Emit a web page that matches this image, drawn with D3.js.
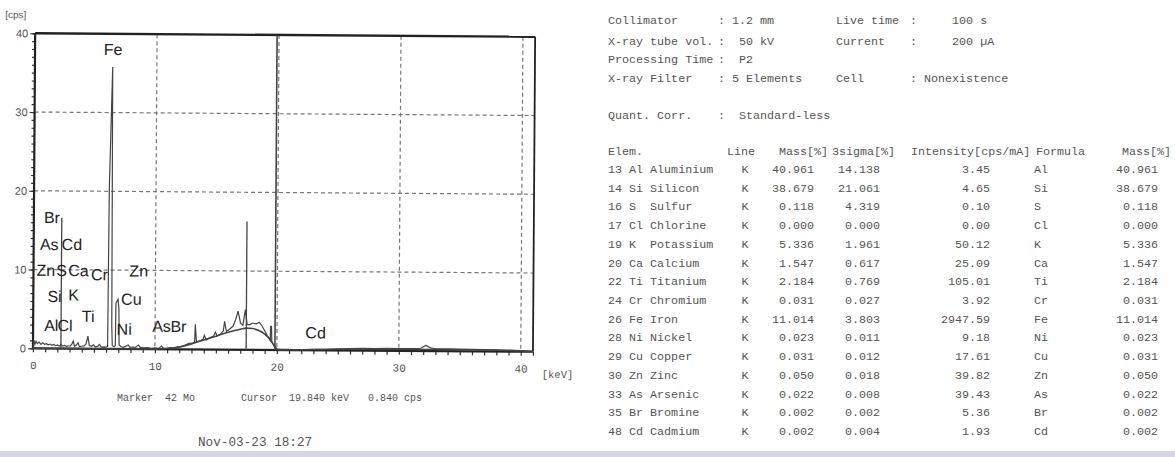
<!DOCTYPE html>
<html>
<head>
<meta charset="utf-8">
<script src="https://cdn.jsdelivr.net/npm/d3@7"></script>
<style>
  body { margin: 0; background: #fff; }
  text { white-space: pre; }
</style>
</head>
<body>
<div id="container"></div>
<script>
// ---- spectrum data ----
const specKeV = [0, 0.08, 0.15, 0.25, 0.35, 0.5, 0.65, 0.8, 0.95, 1.1, 1.25, 1.4, 1.55, 1.7, 1.85, 2.0, 2.15, 2.3, 2.45, 2.6,
  2.75, 2.9, 3.05, 3.2, 3.3, 3.4, 3.55, 3.7, 3.8, 4.0, 4.2, 4.35, 4.5, 4.62, 4.8, 4.95, 5.1, 5.3, 5.45, 5.6,
  5.8, 6.0, 6.12, 6.17, 6.38, 6.45, 6.5, 6.65, 6.75, 6.78, 6.95, 7.03, 7.06, 7.2, 7.4, 7.6, 7.8, 7.95, 8.2, 8.4,
  8.65, 8.8, 9.1, 9.4, 9.7, 10.0, 10.3, 10.55, 10.7, 11.0, 11.3, 11.6, 11.9, 12.2, 12.5, 12.8, 13.1, 13.25, 13.3, 13.4,
  13.7, 13.95, 14.05, 14.2, 14.5, 14.8, 14.95, 15.1, 15.4, 15.6, 15.7, 15.85, 16.1, 16.4, 16.6, 16.8, 17.0, 17.2, 17.4, 17.55,
  17.8, 18.0, 18.3, 18.55, 18.75, 19.0, 19.25, 19.45, 19.48, 19.55, 19.58, 19.7, 19.85, 20.0, 20.3, 21, 22, 23, 24, 25,
  26, 27, 28, 29, 30, 31, 31.8, 32.2, 32.6, 33, 34, 35, 36, 37, 38, 39, 40, 41];
const specCps = [0, 1.0, 0.5, 0.9, 0.6, 0.8, 0.5, 0.7, 0.5, 0.6, 0.45, 0.55, 0.4, 0.5, 0.35, 0.45, 0.3, 0.5, 0.3, 0.4,
  0.25, 0.35, 0.3, 0.6, 0.95, 0.3, 0.45, 0.75, 0.25, 0.3, 0.35, 0.6, 1.6, 0.4, 0.3, 0.5, 0.25, 0.3, 0.55, 0.2,
  0.25, 0.2, 0.3, 20.5, 35.8, 3.0, 0.4, 0.3, 0.4, 5.8, 6.3, 5.0, 0.5, 0.3, 0.2, 0.35, 0.5, 0.2, 0.25, 0.2,
  0.5, 0.2, 0.15, 0.2, 0.1, 0.15, 0.1, 0.4, 0.1, 0.1, 0.2, 0.15, 0.3, 0.35, 0.55, 0.75, 0.8, 0.9, 3.2, 1.0,
  1.1, 1.3, 1.8, 1.2, 1.5, 1.7, 2.2, 1.7, 2.0, 2.4, 3.6, 2.3, 2.6, 3.0, 3.8, 4.9, 3.4, 3.1, 5.1, 3.2,
  3.2, 3.4, 3.3, 3.5, 3.1, 2.4, 1.7, 1.2, 3.0, 3.0, 1.0, 0.7, 0.3, 0.1, 0.05, 0.05, 0.08, 0.1, 0.12, 0.2,
  0.25, 0.28, 0.25, 0.3, 0.28, 0.3, 0.35, 0.7, 0.4, 0.3, 0.3, 0.28, 0.25, 0.22, 0.2, 0.15, 0.12, 0.05];

// fitted background
const bgKeV = [0, 5, 9, 10, 11, 12, 13, 14, 15, 16, 17, 17.5, 18, 18.5, 19, 19.5, 19.8, 20.1, 21, 25, 30, 35, 40, 41];
const bgCps = [0, 0, 0, 0.02, 0.1, 0.3, 0.7, 1.2, 1.7, 2.2, 2.6, 2.75, 2.7, 2.45, 2.0, 1.2, 0.5, 0.05, 0.05, 0.15, 0.2, 0.2, 0.12, 0.05];

// Mo marker lines and cursor
const markerKeV = [2.29, 17.48];
const markerCps = [16.6, 16.3];
const cursorKeV = 19.84;

// element labels on the spectrum
const labelNames = ["Fe", "Br", "As", "Cd", "Zn", "S", "Ca", "Cr", "Zn", "Si", "K", "Cu", "Ti", "Al", "Cl", "Ni", "As", "Br", "Cd"];
const labelKeV = [6.40, 1.48, 1.28, 3.13, 1.01, 2.31, 3.69, 5.41, 8.63, 1.74, 3.31, 8.04, 4.51, 1.49, 2.62, 7.47, 10.53, 11.92, 23.17];
const labelCps = [38.0, 16.6, 13.2, 13.2, 9.9, 9.9, 9.9, 9.4, 9.9, 6.6, 6.8, 6.3, 4.1, 2.9, 2.9, 2.5, 2.9, 2.9, 2.2];

const xTicks = [0, 10, 20, 30, 40];
const yTicks = [0, 10, 20, 30, 40];

// ---- measurement conditions ----
const condLeft = [["Collimator", ": 1.2 mm"], ["X-ray tube vol.", ":  50 kV"], ["Processing Time", ":  P2"], ["X-ray Filter", ": 5 Elements"]];
const condRight = [["Live time", ":     100 s"], ["Current", ":     200 µA"], null, ["Cell", ": Nonexistence"]];

// ---- quantification table ----
const elemLabels = ["13 Al Aluminium", "14 Si Silicon", "16 S  Sulfur", "17 Cl Chlorine", "19 K  Potassium", "20 Ca Calcium",
  "22 Ti Titanium", "24 Cr Chromium", "26 Fe Iron", "28 Ni Nickel", "29 Cu Copper", "30 Zn Zinc", "33 As Arsenic",
  "35 Br Bromine", "48 Cd Cadmium"];
const lineType = ["K", "K", "K", "K", "K", "K", "K", "K", "K", "K", "K", "K", "K", "K", "K"];
const massPct = [40.961, 38.679, 0.118, 0.000, 5.336, 1.547, 2.184, 0.031, 11.014, 0.023, 0.031, 0.050, 0.022, 0.002, 0.002];
const sigmaPct = [14.138, 21.061, 4.319, 0.000, 1.961, 0.617, 0.769, 0.027, 3.803, 0.011, 0.012, 0.018, 0.008, 0.002, 0.004];
const intensity = [3.45, 4.65, 0.10, 0.00, 50.12, 25.09, 105.01, 3.92, 2947.59, 9.18, 17.61, 39.82, 39.43, 5.36, 1.93];
const formula = ["Al", "Si", "S", "Cl", "K", "Ca", "Ti", "Cr", "Fe", "Ni", "Cu", "Zn", "As", "Br", "Cd"];

const W = 1175, H = 457;
const mono = "'Liberation Mono', 'DejaVu Sans Mono', monospace";
const sans = "'Liberation Sans Narrow', 'Liberation Sans', Arial, sans-serif";
const ink = "#333";
const printInk = "#555";

const svg = d3.select("#container").append("svg").attr("width", W).attr("height", H);
svg.append("rect").attr("width", W).attr("height", H).attr("fill", "#fff");
svg.append("rect").attr("y", 451).attr("width", W).attr("height", 6).attr("fill", "#d6d6e6");

// ---- spectrum ----
const x = d3.scaleLinear().domain([0, 41]).range([34, 534]);
const y = d3.scaleLinear().domain([0, 40]).range([350, 35]);

const chart = svg.append("g").attr("transform", "rotate(0.4, 280, 200)");

// dashed grid
chart.append("g").selectAll("line").data(yTicks.filter(d => d > 0 && d < 40)).join("line")
  .attr("x1", x(0)).attr("x2", x(41)).attr("y1", d => y(d)).attr("y2", d => y(d))
  .attr("stroke", "#777").attr("stroke-width", 1.2).attr("stroke-dasharray", "4,3");
chart.append("g").selectAll("line").data(xTicks.filter(d => d > 0)).join("line")
  .attr("x1", d => x(d)).attr("x2", d => x(d)).attr("y1", y(40)).attr("y2", y(0))
  .attr("stroke", "#777").attr("stroke-width", 1.2).attr("stroke-dasharray", "4,3");

// minor ticks
const yMinor = d3.axisLeft(y).tickValues(d3.range(0, 41)).tickSize(3).tickFormat("");
chart.append("g").attr("transform", `translate(${x(0)},0)`).call(yMinor)
  .call(g => g.select(".domain").remove())
  .call(g => g.selectAll("line").attr("stroke", ink).attr("stroke-width", 1.2));
const yMajor = d3.axisLeft(y).tickValues(yTicks).tickSize(5).tickPadding(2);
chart.append("g").attr("transform", `translate(${x(0)},0)`).call(yMajor)
  .call(g => g.select(".domain").remove())
  .call(g => g.selectAll("line").attr("stroke", ink).attr("stroke-width", 1.2))
  .call(g => g.selectAll("text").attr("fill", "#555").attr("font-family", sans).attr("font-size", 11));

const xMinor = d3.axisBottom(x).tickValues(d3.range(0, 42)).tickSize(4).tickFormat("");
chart.append("g").attr("transform", `translate(0,${y(0)})`).call(xMinor)
  .call(g => g.select(".domain").remove())
  .call(g => g.selectAll("line").attr("stroke", ink).attr("stroke-width", 1.2));
const xMajor = d3.axisBottom(x).tickValues(xTicks).tickSize(0).tickPadding(13);
chart.append("g").attr("transform", `translate(0,${y(0)})`).call(xMajor)
  .call(g => g.select(".domain").remove())
  .call(g => g.selectAll("text").attr("fill", "#555").attr("font-family", mono).attr("font-size", 11));

// frame
const frame = [[0, 0, 0, 40, 2.2], [0, 40, 41, 40, 2.4], [41, 40, 41, 0, 1.8], [0, 0, 41, 0, 2.2]];
chart.append("g").selectAll("line").data(frame).join("line")
  .attr("x1", d => x(d[0])).attr("y1", d => y(d[1])).attr("x2", d => x(d[2])).attr("y2", d => y(d[3]))
  .attr("stroke", "#222").attr("stroke-width", d => d[4]);

// cursor
chart.append("line").attr("x1", x(cursorKeV)).attr("x2", x(cursorKeV)).attr("y1", y(40)).attr("y2", y(0))
  .attr("stroke", "#444").attr("stroke-width", 1.6);

// marker lines
chart.append("g").selectAll("line").data(markerKeV).join("line")
  .attr("x1", d => x(d)).attr("x2", d => x(d)).attr("y1", y(0)).attr("y2", (d, i) => y(markerCps[i]))
  .attr("stroke", "#444").attr("stroke-width", 1.3);

// background fit and spectrum
const bgLine = d3.line().x((d, i) => x(bgKeV[i])).y(d => y(d)).curve(d3.curveMonotoneX);
chart.append("path").attr("d", bgLine(bgCps)).attr("fill", "none").attr("stroke", "#444").attr("stroke-width", 1.6);
const specLine = d3.line().x((d, i) => x(specKeV[i])).y(d => y(d));
chart.append("path").attr("d", specLine(specCps)).attr("fill", "none").attr("stroke", "#444").attr("stroke-width", 1.2);

// element labels
chart.append("g").selectAll("text").data(labelNames).join("text")
  .attr("x", (d, i) => x(labelKeV[i])).attr("y", (d, i) => y(labelCps[i]))
  .attr("text-anchor", "middle").attr("dominant-baseline", "central")
  .attr("font-family", sans).attr("font-size", 16).attr("fill", "#222")
  .text(d => d);

chart.append("text").attr("x", 4).attr("y", 20).attr("font-family", sans).attr("font-size", 10).attr("fill", "#555").text("[cps]");
chart.append("text").attr("x", 543).attr("y", 376).attr("font-family", mono).attr("font-size", 10.5).attr("fill", "#555").text("[keV]");

const foot = svg.append("g").attr("font-family", mono).attr("font-size", 10).attr("fill", printInk);
foot.append("text").attr("x", 117).attr("y", 401).text("Marker  42 Mo");
foot.append("text").attr("x", 241).attr("y", 401).text("Cursor  19.840 keV");
foot.append("text").attr("x", 368).attr("y", 401).text("0.840 cps");
foot.append("text").attr("x", 198).attr("y", 446).attr("font-size", 12.7).text("Nov-03-23 18:27");

// ---- conditions block ----
const cond = svg.append("g").attr("font-family", mono).attr("font-size", 11.7).attr("fill", printInk);
const condY = [21, 42, 60, 79];
condLeft.forEach((c, i) => {
  cond.append("text").attr("x", 608).attr("y", condY[i]).attr("dominant-baseline", "central").text(c[0]);
  cond.append("text").attr("x", 718).attr("y", condY[i]).attr("dominant-baseline", "central").text(c[1]);
});
condRight.forEach((c, i) => {
  if (!c) return;
  cond.append("text").attr("x", 836).attr("y", condY[i]).attr("dominant-baseline", "central").text(c[0]);
  cond.append("text").attr("x", 910).attr("y", condY[i]).attr("dominant-baseline", "central").text(c[1]);
});
cond.append("text").attr("x", 608).attr("y", 116).attr("dominant-baseline", "central").text("Quant. Corr.");
cond.append("text").attr("x", 718).attr("y", 116).attr("dominant-baseline", "central").text(":  Standard-less");

// ---- table ----
const tbl = svg.append("g").attr("font-family", mono).attr("font-size", 11.7).attr("fill", printInk)
  .attr("dominant-baseline", "central");
const heads = [["Elem.", 608], ["Line", 727], ["Mass[%]", 779], ["3sigma[%]", 832], ["Intensity[cps/mA]", 911], ["Formula", 1036], ["Mass[%]", 1122]];
tbl.selectAll(".h").data(heads).join("text").attr("class", "h")
  .attr("x", d => d[1]).attr("y", 152).text(d => d[0]);

const rowY = d3.scaleLinear().domain([0, 14]).range([170, 432]);
const f3 = d3.format(".3f"), f2 = d3.format(".2f");
const cols = [
  { vals: elemLabels, x: 608, anchor: "start", fmt: d => d },
  { vals: lineType, x: 745, anchor: "middle", fmt: d => d },
  { vals: massPct, x: 814, anchor: "end", fmt: f3 },
  { vals: sigmaPct, x: 880, anchor: "end", fmt: f3 },
  { vals: intensity, x: 990, anchor: "end", fmt: f2 },
  { vals: formula, x: 1034, anchor: "start", fmt: d => d },
  { vals: massPct, x: 1158, anchor: "end", fmt: f3 }
];
cols.forEach(c => {
  tbl.append("g").selectAll("text").data(c.vals).join("text")
    .attr("x", c.x).attr("y", (d, i) => rowY(i)).attr("text-anchor", c.anchor)
    .text(c.fmt);
});
</script>
</body>
</html>
